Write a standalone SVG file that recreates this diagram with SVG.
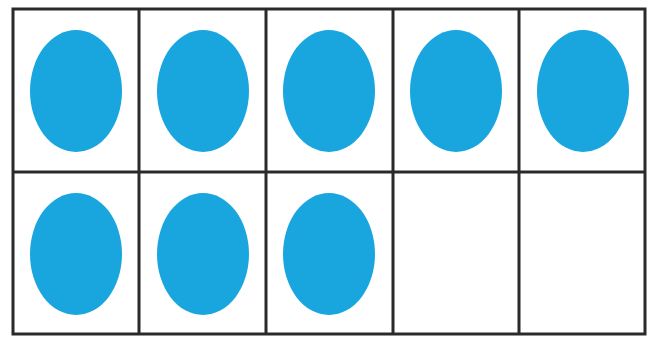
<svg xmlns="http://www.w3.org/2000/svg" width="654" height="338" viewBox="0 0 654 338">
<style>
.grid{fill:none;stroke:#2a2a2a;stroke-width:3}
.dot{fill:#19a6df}
</style>
<rect width="654" height="338" fill="#fff"/>
<g id="dots">
<ellipse id="d1" class="dot" cx="76" cy="91" rx="46" ry="61"/>
<ellipse id="d2" class="dot" cx="203" cy="91" rx="46" ry="61"/>
<ellipse id="d3" class="dot" cx="329" cy="91" rx="46" ry="61"/>
<ellipse id="d4" class="dot" cx="456" cy="91" rx="46" ry="61"/>
<ellipse id="d5" class="dot" cx="583" cy="91" rx="46" ry="61"/>
<ellipse id="d6" class="dot" cx="76" cy="254" rx="46" ry="61"/>
<ellipse id="d7" class="dot" cx="203" cy="254" rx="46" ry="61"/>
<ellipse id="d8" class="dot" cx="329" cy="254" rx="46" ry="61"/>
</g>
<g id="grid" class="grid">
<rect x="13" y="9" width="632" height="325"/>
<line x1="13" y1="172" x2="645" y2="172"/>
<line x1="139" y1="9" x2="139" y2="334"/>
<line x1="266" y1="9" x2="266" y2="334"/>
<line x1="393" y1="9" x2="393" y2="334"/>
<line x1="519" y1="9" x2="519" y2="334"/>
</g>
</svg>
